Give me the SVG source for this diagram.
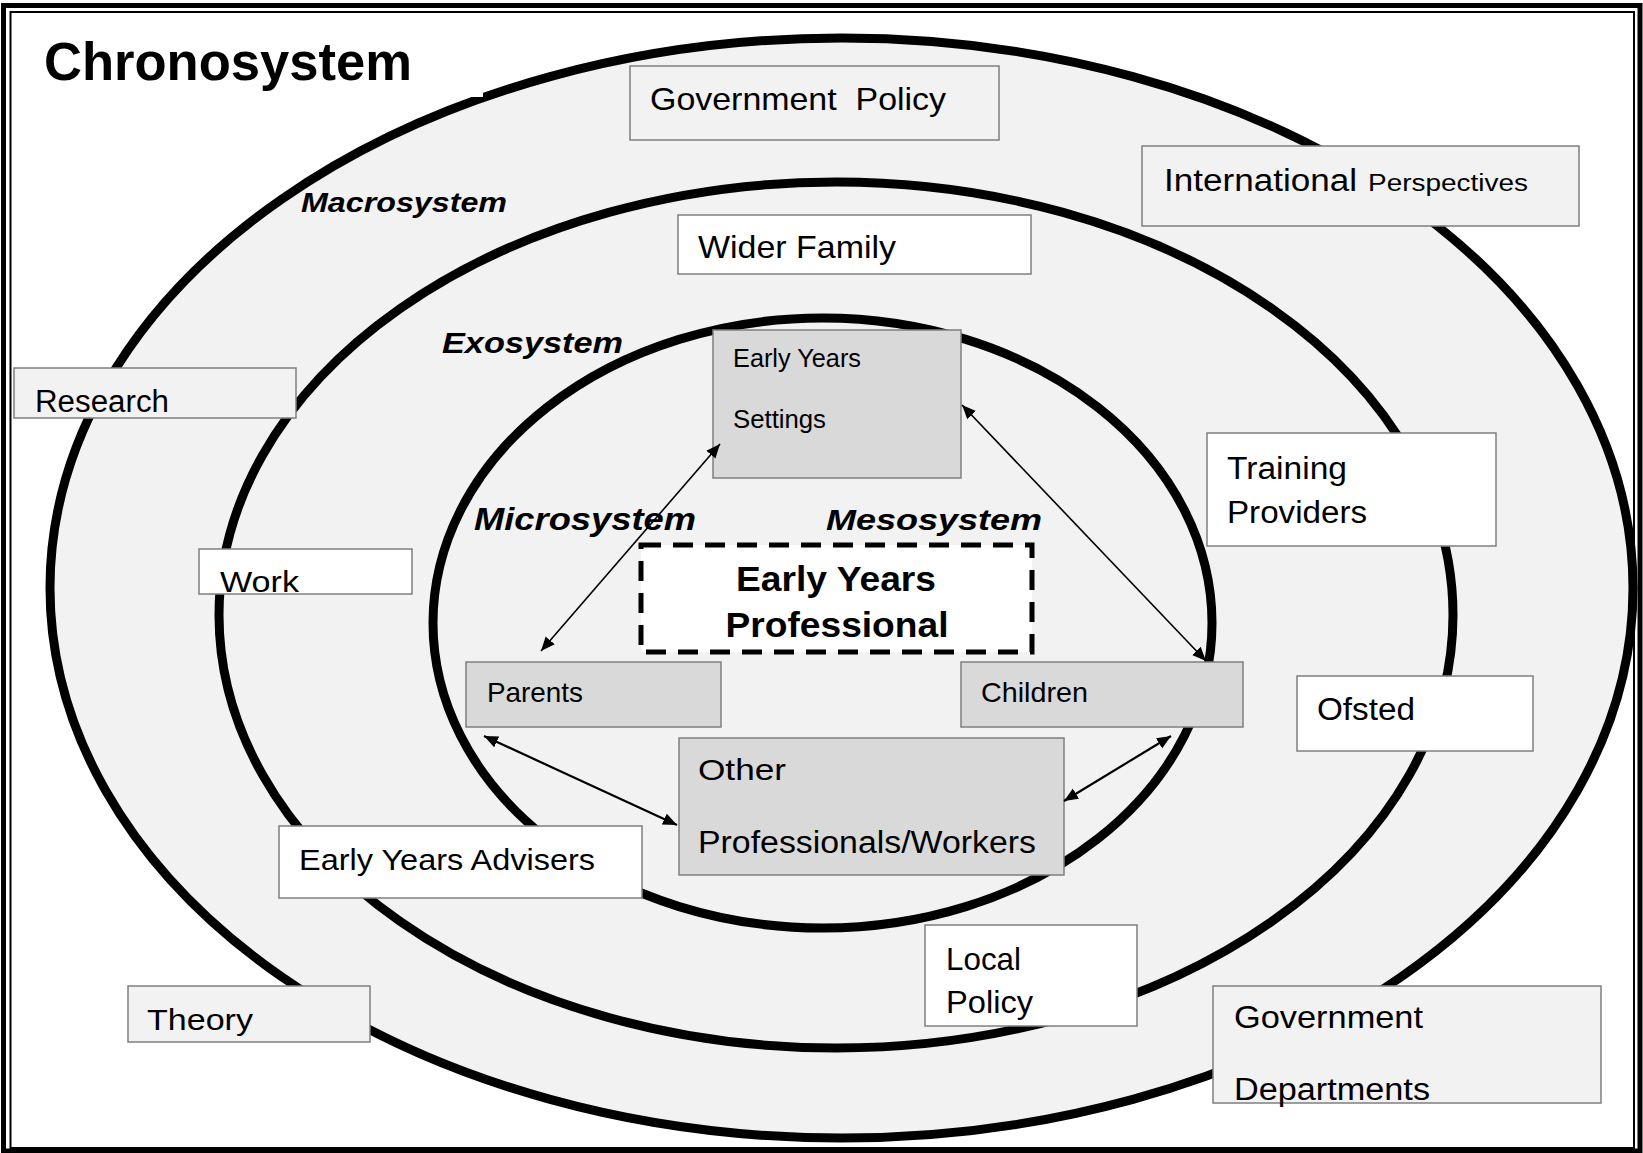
<svg xmlns="http://www.w3.org/2000/svg" width="1643" height="1153" viewBox="0 0 1643 1153">
<style>
  .ring { fill: #f2f2f2; stroke: #000; stroke-width: 9; }
  .box { stroke: #7f7f7f; stroke-width: 1.5; }
  .lt { fill: #f2f2f2; }
  .wh { fill: #ffffff; }
  .dk { fill: #d9d9d9; }
  .t { font-family: "Liberation Sans", Arial, sans-serif; fill: #000; }
  .lbl { font-family: "Liberation Sans", Arial, sans-serif; font-weight: bold; font-style: italic; fill: #000; }
  .conn { stroke: #000; fill: none; }
</style>
<defs>
  <marker id="ah" markerUnits="userSpaceOnUse" markerWidth="16" markerHeight="14" refX="14" refY="6" orient="auto-start-reverse">
    <path d="M0,0 L14,6 L0,12 z" fill="#000"/>
  </marker>
</defs>
<rect x="0" y="0" width="1643" height="1153" fill="#fff"/>
<!-- frame -->
<rect x="3.5" y="5.5" width="1636.5" height="1145.5" fill="none" stroke="#000" stroke-width="5"/>
<rect x="10.5" y="12" width="1623.5" height="1136" fill="none" stroke="#000" stroke-width="2"/>

<!-- system rings -->
<g id="rings">
  <ellipse class="ring" cx="841.5" cy="588" rx="791.5" ry="550"/>
  <rect x="467" y="86" width="16" height="11" fill="#fff"/>
  <ellipse class="ring" cx="836" cy="615" rx="617" ry="433"/>
  <ellipse class="ring" cx="822.5" cy="623" rx="389.5" ry="305"/>
</g>

<g id="chronosystem-label">
  <text class="t" x="44" y="80" font-size="53" font-weight="bold" textLength="368" lengthAdjust="spacingAndGlyphs">Chronosystem</text>
</g>
<g id="system-labels">
  <text class="lbl" x="301" y="212" font-size="28" textLength="206" lengthAdjust="spacingAndGlyphs">Macrosystem</text>
  <text class="lbl" x="442" y="353" font-size="29.5" textLength="181" lengthAdjust="spacingAndGlyphs">Exosystem</text>
  <text class="lbl" x="474" y="530" font-size="31" textLength="222" lengthAdjust="spacingAndGlyphs">Microsystem</text>
  <text class="lbl" x="826" y="530" font-size="30" textLength="216" lengthAdjust="spacingAndGlyphs">Mesosystem</text>
</g>

<g id="government-policy">
  <rect class="box lt" x="630" y="66" width="369" height="74"/>
  <text class="t" x="650" y="110" font-size="32" textLength="296" lengthAdjust="spacingAndGlyphs">Government&#160; Policy</text>
</g>
<g id="international-perspectives">
  <rect class="box lt" x="1142" y="146" width="437" height="80"/>
  <text class="t" x="1164" y="191" font-size="31" textLength="193" lengthAdjust="spacingAndGlyphs">International</text>
  <text class="t" x="1368" y="191" font-size="23" textLength="160" lengthAdjust="spacingAndGlyphs">Perspectives</text>
</g>
<g id="wider-family">
  <rect class="box wh" x="678" y="215" width="353" height="59"/>
  <text class="t" x="698" y="258" font-size="32" textLength="198" lengthAdjust="spacingAndGlyphs">Wider Family</text>
</g>
<g id="early-years-settings">
  <rect class="box dk" x="713" y="330" width="248" height="148"/>
  <text class="t" x="733" y="367" font-size="25" textLength="128" lengthAdjust="spacingAndGlyphs">Early Years</text>
  <text class="t" x="733" y="428" font-size="25" textLength="93" lengthAdjust="spacingAndGlyphs">Settings</text>
</g>
<g id="research">
  <rect class="box lt" x="14" y="368" width="282" height="50"/>
  <text class="t" x="35" y="412" font-size="31" textLength="134" lengthAdjust="spacingAndGlyphs">Research</text>
</g>
<g id="work">
  <rect class="box wh" x="199" y="549" width="213" height="45"/>
  <text class="t" x="220" y="592" font-size="30" textLength="79" lengthAdjust="spacingAndGlyphs">Work</text>
</g>
<g id="training-providers">
  <rect class="box wh" x="1207" y="433" width="289" height="113"/>
  <text class="t" x="1227" y="479" font-size="31" textLength="120" lengthAdjust="spacingAndGlyphs">Training</text>
  <text class="t" x="1227" y="523" font-size="31" textLength="140" lengthAdjust="spacingAndGlyphs">Providers</text>
</g>
<g id="early-years-professional">
  <rect x="641" y="545" width="391" height="107" fill="#fff" stroke="#000" stroke-width="5" stroke-dasharray="20 12"/>
  <text class="t" x="836" y="591" font-size="35" font-weight="bold" text-anchor="middle" textLength="200" lengthAdjust="spacingAndGlyphs">Early Years</text>
  <text class="t" x="837" y="637" font-size="35" font-weight="bold" text-anchor="middle" textLength="223" lengthAdjust="spacingAndGlyphs">Professional</text>
</g>
<g id="parents">
  <rect class="box dk" x="466" y="662" width="255" height="65"/>
  <text class="t" x="487" y="702" font-size="28" textLength="96" lengthAdjust="spacingAndGlyphs">Parents</text>
</g>
<g id="children">
  <rect class="box dk" x="961" y="662" width="282" height="65"/>
  <text class="t" x="981" y="702" font-size="28" textLength="107" lengthAdjust="spacingAndGlyphs">Children</text>
</g>
<g id="ofsted">
  <rect class="box wh" x="1297" y="676" width="236" height="75"/>
  <text class="t" x="1317" y="720" font-size="31" textLength="98" lengthAdjust="spacingAndGlyphs">Ofsted</text>
</g>
<g id="other-professionals">
  <rect class="box dk" x="679" y="738" width="385" height="137"/>
  <text class="t" x="698" y="780" font-size="30" textLength="88" lengthAdjust="spacingAndGlyphs">Other</text>
  <text class="t" x="698" y="853" font-size="31" textLength="338" lengthAdjust="spacingAndGlyphs">Professionals/Workers</text>
</g>
<g id="early-years-advisers">
  <rect class="box wh" x="279" y="826" width="363" height="72"/>
  <text class="t" x="299" y="870" font-size="30" textLength="296" lengthAdjust="spacingAndGlyphs">Early Years Advisers</text>
</g>
<g id="theory">
  <rect class="box lt" x="128" y="986" width="242" height="56"/>
  <text class="t" x="147" y="1030" font-size="30" textLength="106" lengthAdjust="spacingAndGlyphs">Theory</text>
</g>
<g id="local-policy">
  <rect class="box wh" x="925" y="925" width="212" height="101"/>
  <text class="t" x="946" y="970" font-size="32" textLength="75" lengthAdjust="spacingAndGlyphs">Local</text>
  <text class="t" x="946" y="1013" font-size="32" textLength="87" lengthAdjust="spacingAndGlyphs">Policy</text>
</g>
<g id="government-departments">
  <rect class="box lt" x="1213" y="986" width="388" height="117"/>
  <text class="t" x="1234" y="1028" font-size="32" textLength="189" lengthAdjust="spacingAndGlyphs">Government</text>
  <text class="t" x="1234" y="1100" font-size="31" textLength="196" lengthAdjust="spacingAndGlyphs">Departments</text>
</g>

<g id="connectors">
  <line class="conn" x1="720" y1="444" x2="541" y2="651" stroke-width="1.6" marker-start="url(#ah)" marker-end="url(#ah)"/>
  <line class="conn" x1="962" y1="405" x2="1206" y2="661" stroke-width="1.6" marker-start="url(#ah)" marker-end="url(#ah)"/>
  <line class="conn" x1="484" y1="736" x2="677" y2="825" stroke-width="2.2" marker-start="url(#ah)" marker-end="url(#ah)"/>
  <line class="conn" x1="1171" y1="736" x2="1064" y2="801" stroke-width="2.2" marker-start="url(#ah)" marker-end="url(#ah)"/>
</g>
</svg>
